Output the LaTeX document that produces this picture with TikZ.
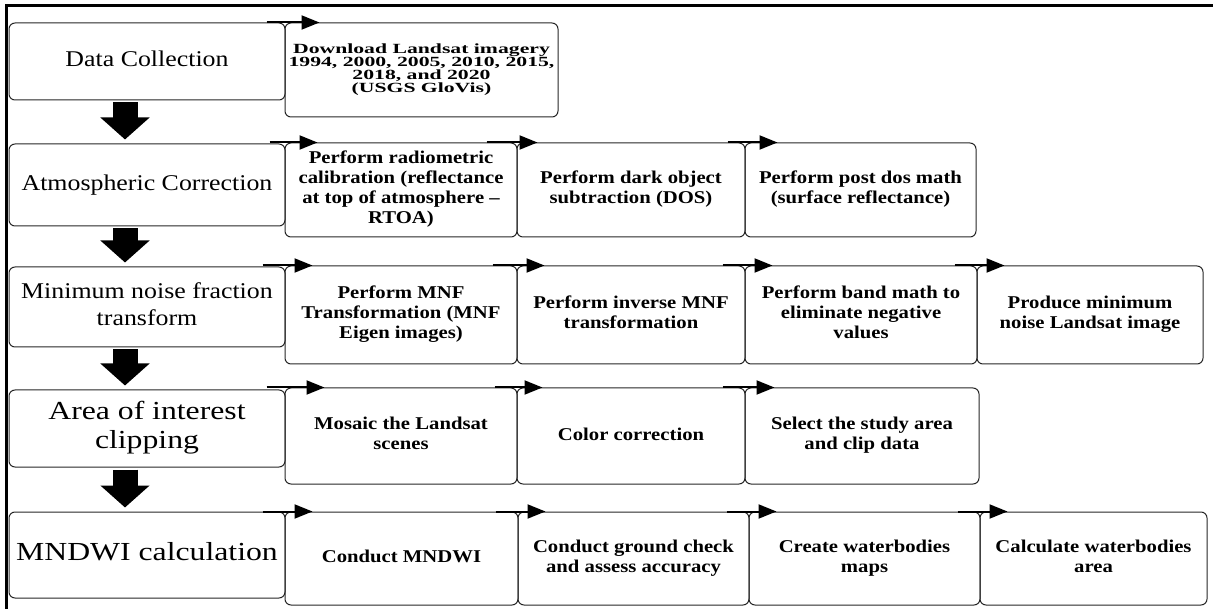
\documentclass[tikz,border=0pt]{standalone}
\usepackage{fontspec}
\setmainfont{Liberation Serif}
\newfontfamily\leftfont{Liberation Serif}[FakeStretch=1.15]
\newfontfamily\leftfontB{Liberation Serif}[FakeStretch=1.22]
\newfontfamily\stepfont{Liberation Serif}[FakeStretch=1.15]
\newfontfamily\dlfont{Liberation Serif}[FakeStretch=1.55]
\usetikzlibrary{arrows.meta}
\newcommand\tlines[2][0pt]{\raisebox{#1}{\begin{tabular}{@{}c@{}}#2\end{tabular}}}
\tikzset{
  box/.style={draw=black!85, line width=1pt, rounded corners=6pt, inner sep=0pt, anchor=center},
  lbox/.style={box, minimum width=276pt, font=\leftfont\fontsize{22.5}{27}\selectfont},
  lboxB/.style={box, minimum width=276pt, font=\leftfontB\fontsize{26}{29}\selectfont},
  rbox/.style={box, font=\stepfont\bfseries\fontsize{18}{20}\selectfont},
  dlbox/.style={box, font=\dlfont\bfseries\fontsize{14}{11}\selectfont},
  bigarrow/.style={line width=25pt, -{Triangle[length=22pt,width=48pt]}, shorten <=2pt, shorten >=4pt},
  harrow/.style={line width=2pt, -{Triangle[length=18pt,width=14pt]}},
}
\begin{document}
\begin{tikzpicture}[x=1pt,y=-1pt]
\useasboundingbox (0,0) rectangle (1213,609);
\draw[line width=3pt] (6,615) -- (6,6) -- (1220,6);

% left column
\node[lbox, minimum height=77pt] (l1) at (147,61.5) {\tlines[-3pt]{Data Collection}};
\node[lbox, minimum height=82pt] (l2) at (147,185) {\tlines[2pt]{Atmospheric Correction}};
\node[lbox, minimum height=80pt] (l3) at (147,307) {\tlines[2pt]{Minimum noise fraction\\transform}};
\node[lboxB, minimum height=77pt] (l4) at (147,428.5) {\tlines{Area of interest\\clipping}};
\node[lboxB, minimum height=86pt] (l5) at (147,555) {\tlines[-2pt]{MNDWI calculation}};

% row 1
\node[dlbox, minimum width=273pt, minimum height=94pt] (r1) at (421.5,70) {\tlines[11pt]{Download Landsat imagery\\1994, 2000, 2005, 2010, 2015,\\2018, and 2020\\(USGS GloVis)}};
% row 2
\node[rbox, minimum width=232pt, minimum height=94pt] (r21) at (401,190) {\tlines[-4pt]{Perform radiometric\\calibration (reflectance\\at top of atmosphere –\\RTOA)}};
\node[rbox, minimum width=228pt, minimum height=94pt] (r22) at (631,190) {\tlines{Perform dark object\\subtraction (DOS)}};
\node[rbox, minimum width=231pt, minimum height=94pt] (r23) at (860.5,190) {\tlines{Perform post dos math\\(surface reflectance)}};
% row 3
\node[rbox, minimum width=232pt, minimum height=98pt] (r31) at (401,315) {\tlines[3pt]{Perform MNF\\Transformation (MNF\\Eigen images)}};
\node[rbox, minimum width=228pt, minimum height=98pt] (r32) at (631,315) {\tlines[3pt]{Perform inverse MNF\\transformation}};
\node[rbox, minimum width=232pt, minimum height=98pt] (r33) at (861,315) {\tlines[3pt]{Perform band math to\\eliminate negative\\values}};
\node[rbox, minimum width=226pt, minimum height=98pt] (r34) at (1090,315) {\tlines[3pt]{Produce minimum\\noise Landsat image}};
% row 4
\node[rbox, minimum width=232pt, minimum height=96pt] (r41) at (401,436) {\tlines[-5pt]{Mosaic the Landsat\\scenes}};
\node[rbox, minimum width=228pt, minimum height=96pt] (r42) at (631,436) {\tlines[-6pt]{Color correction}};
\node[rbox, minimum width=234pt, minimum height=96pt] (r43) at (862,436) {\tlines[9pt]{Select the study area\\and clip data}};
% row 5
\node[rbox, minimum width=233pt, minimum height=93pt] (r51) at (401.5,558.5) {\tlines[3pt]{Conduct MNDWI}};
\node[rbox, minimum width=231pt, minimum height=93pt] (r52) at (633.5,558.5) {\tlines[1pt]{Conduct ground check\\and assess accuracy}};
\node[rbox, minimum width=231pt, minimum height=93pt] (r53) at (864.5,558.5) {\tlines[1pt]{Create waterbodies\\maps}};
\node[rbox, minimum width=227pt, minimum height=93pt] (r54) at (1093.5,558.5) {\tlines[1pt]{Calculate waterbodies\\area}};

% thick down arrows
\draw[bigarrow] ([xshift=-22pt]l1.south) -- ([xshift=-22pt]l2.north);
\draw[bigarrow] ([xshift=-22pt]l2.south) -- ([xshift=-22pt]l3.north);
\draw[bigarrow] ([xshift=-22pt]l3.south) -- ([xshift=-22pt]l4.north);
\draw[bigarrow] ([xshift=-22pt]l4.south) -- ([xshift=-22pt]l5.north);

% horizontal arrows
\draw[harrow] ([xshift=-18pt]r1.north west) -- ([xshift=35pt]r1.north west);
\draw[harrow] ([xshift=-15pt]r21.north west) -- ([xshift=33pt]r21.north west);
\draw[harrow] ([xshift=-30pt]r22.north west) -- ([xshift=21pt]r22.north west);
\draw[harrow] ([xshift=-17pt]r23.north west) -- ([xshift=33pt]r23.north west);
\draw[harrow] ([xshift=-22pt]r31.north west) -- ([xshift=28pt]r31.north west);
\draw[harrow] ([xshift=-24pt]r32.north west) -- ([xshift=28pt]r32.north west);
\draw[harrow] ([xshift=-22pt]r33.north west) -- ([xshift=28pt]r33.north west);
\draw[harrow] ([xshift=-22pt]r34.north west) -- ([xshift=28pt]r34.north west);
\draw[harrow] ([xshift=-18pt]r41.north west) -- ([xshift=40pt]r41.north west);
\draw[harrow] ([xshift=-22pt]r42.north west) -- ([xshift=26pt]r42.north west);
\draw[harrow] ([xshift=-22pt]r43.north west) -- ([xshift=30pt]r43.north west);
\draw[harrow] ([xshift=-22pt]r51.north west) -- ([xshift=28pt]r51.north west);
\draw[harrow] ([xshift=-22pt]r52.north west) -- ([xshift=28pt]r52.north west);
\draw[harrow] ([xshift=-22pt]r53.north west) -- ([xshift=28pt]r53.north west);
\draw[harrow] ([xshift=-22pt]r54.north west) -- ([xshift=28pt]r54.north west);
\end{tikzpicture}
\end{document}
